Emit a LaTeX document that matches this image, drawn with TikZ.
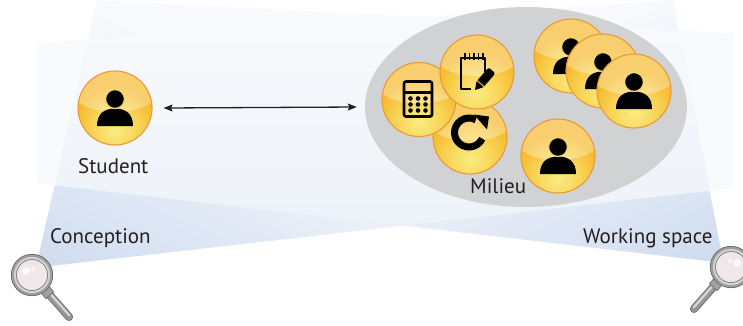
\documentclass[tikz,border=0pt]{standalone}
\usepackage{fontspec}
\setmainfont{PT Sans}
\usetikzlibrary{arrows.meta,shapes.geometric}

% palette
\definecolor{beamDark}{RGB}{208,221,240}
\definecolor{beamPale}{RGB}{249,250,253}
\definecolor{ovTop}{RGB}{249,250,253}
\definecolor{ovBot}{RGB}{237,242,249}
\definecolor{milieuGray}{RGB}{209,210,212}
\definecolor{orbMain}{RGB}{246,184,42}
\definecolor{orbGlow}{RGB}{250,236,128}
\definecolor{orbRim}{RGB}{232,155,52}
\definecolor{ink}{RGB}{35,31,32}
\definecolor{iconInk}{RGB}{0,0,0}
\definecolor{ringGray}{RGB}{160,160,162}
\definecolor{ringLight}{RGB}{212,212,214}
\definecolor{ringEdge}{RGB}{105,105,108}
\definecolor{lensCol}{RGB}{240,231,234}
\definecolor{handleGray}{RGB}{150,150,152}
\definecolor{handleLight}{RGB}{214,214,216}

\pgfdeclareradialshading{orbshade}{\pgfpoint{0bp}{0bp}}{%
  color(0bp)=(orbGlow); color(12bp)=(orbGlow!55!orbMain);
  color(24bp)=(orbMain); color(50bp)=(orbMain)}

\tikzset{
  orb/.style={circle, minimum size=74pt, inner sep=0pt, draw=orbRim, line width=1.1pt,
    path picture={
      \fill[orbMain] (path picture bounding box.south west)
        rectangle (path picture bounding box.north east);
      \shade[shading=orbshade] ([yshift=-22pt]path picture bounding box.center) circle (46pt);
      \fill[white, fill opacity=.32] ([yshift=18pt]path picture bounding box.center)
        ellipse (44pt and 22pt);
    }},
  lbl/.style={font=\fontsize{21}{23}\selectfont, text=ink, inner sep=0pt},
  link/.style={draw=ink, line width=1.3pt,
    {Stealth[length=9pt,width=7pt,inset=1.5pt]}-{Stealth[length=9pt,width=7pt,inset=1.5pt]}},
  person/.pic={
    \fill[iconInk] (-18,18) .. controls (-18,6) and (-11,0.5) .. (0,0.5)
      .. controls (11,0.5) and (18,6) .. (18,18) -- cycle;
    \filldraw[fill=iconInk, draw=orbGlow!60!orbMain, line width=1.3pt] (0,-9) circle (9.5pt);
  },
  calculator/.pic={
    \draw[iconInk, line width=2.6pt, rounded corners=2pt] (-15,-18) rectangle (13,17);
    \draw[iconInk, line width=2.2pt] (-15,-7) -- (13,-7);
    \foreach \dx in {-8.5,-1,6.5}
      \foreach \dy in {-1,5,11}
        \fill[iconInk] (\dx,\dy) circle (2.3pt);
  },
  notepad/.pic={
    \draw[iconInk, line width=2.4pt, line join=round] (-6,17) -- (-16,17) -- (-16,-14) -- (8,-14) -- (8,0);
    \foreach \dx in {-12,-7.5,-3,1.5,6}
      \draw[iconInk, line width=1.8pt] (\dx,-19) -- (\dx,-12);
    \begin{scope}[shift={(-2,18)}, rotate=49]
      \fill[iconInk] (0,0) -- (7.5,-4.5) -- (7.5,4.5) -- cycle;
      \fill[iconInk, rounded corners=1.5pt] (7,-4.5) -- (26,-4.5) -- (26,4.5) -- (7,4.5) -- cycle;
      \draw[orbMain, line width=1pt] (8.5,-5) -- (8.5,5);
    \end{scope}
  },
  refresh/.pic={
    \draw[iconInk, line width=7pt] (-1,-4.5) ++(25:14.5) arc (25:298:14.5);
    \fill[iconInk] (4,-22.5) -- (19,-20.5) -- (17,-7.5) -- cycle;
  },
  magnifier/.pic={
    \begin{scope}[rotate=-48.5]
      \draw[line width=8pt, line cap=round, ringEdge] (24,0) -- (56,0);
      \draw[line width=6.4pt, line cap=round, handleGray] (24,0) -- (56,0);
      \draw[line width=2.2pt, line cap=round, handleLight] (25,-1.2) -- (55,-1.2);
      \filldraw[fill=ringGray, draw=ringEdge, line width=.6pt] (18,-5.2) rectangle (27,5.2);
    \end{scope}
    \fill[ringGray] (0,0) circle (21pt);
    \draw[ringLight, line width=2pt] (0,0) circle (17pt);
    \draw[ringEdge, line width=.7pt] (0,0) circle (20.7pt);
    \fill[lensCol] (0,0) circle (15.5pt);
    \draw[ringEdge, line width=.5pt] (0,0) circle (15.5pt);
    \fill[white, fill opacity=.75] (-6,-4) circle (4pt);
    \fill[white, fill opacity=.55] (1,-6) circle (2.2pt);
  },
}

\begin{document}
\begin{tikzpicture}[x=1pt, y=-1pt]
\useasboundingbox (0,0) rectangle (743,325);

% light beam of the left magnifier
\begin{scope}
  \clip (38,258) -- (97,0) -- (733,33) -- (733,188) -- (50,266) -- cycle;
  \begin{scope}[shift={(40,264)}, rotate=65]
    \fill[beamDark] (-500,-900) rectangle (0.5,900);
    \fill[beamPale] (269,-900) rectangle (1300,900);
    \foreach \i in {0,...,26}{
      \pgfmathsetmacro\p{100*\i/26}
      \fill[beamPale!\p!beamDark] (\i*10,-900) rectangle (\i*10+11,900);
    }
  \end{scope}
\end{scope}

% light beam of the right magnifier
\begin{scope}
  \clip (721,250) -- (673,0) -- (37,43) -- (37,183) -- (716,262) -- cycle;
  \begin{scope}[shift={(718,256)}, rotate=115]
    \fill[beamDark] (-500,-900) rectangle (0.5,900);
    \fill[beamPale] (269,-900) rectangle (1300,900);
    \foreach \i in {0,...,26}{
      \pgfmathsetmacro\p{100*\i/26}
      \fill[beamPale!\p!beamDark] (\i*10,-900) rectangle (\i*10+11,900);
    }
  \end{scope}
\end{scope}

% where both beams meet the light is paler
\begin{scope}
  \clip (38,258) -- (97,0) -- (733,33) -- (733,188) -- (50,266) -- cycle;
  \clip (721,250) -- (673,0) -- (37,43) -- (37,183) -- (716,262) -- cycle;
  \shade[top color=ovTop, bottom color=ovBot] (0,0) rectangle (743,232);
\end{scope}

% magnifiers
\pic at (32,275) {magnifier};
\pic[xscale=-1] at (731,267) {magnifier};

% milieu
\node[ellipse, fill=milieuGray, minimum width=322pt, minimum height=200pt, inner sep=0pt] (milieu) at (526,107) {};

\node[orb] (p1) at (571,56) {};
\pic at (p1) {person};
\node[orb] (p2) at (603,71) {};
\pic at (p2) {person};
\node[orb] (p3) at (634,91) {};
\pic at (p3) {person};

\node[orb] (rf) at (470,137) {};
\pic at (rf) {refresh};
\node[orb] (calc) at (419,99.5) {};
\pic at (calc) {calculator};
\node[orb] (note) at (477,72) {};
\pic at (note) {notepad};

\node[lbl, anchor=base west] (mil) at (470,193) {Milieu};

\node[orb] (p4) at (558,156) {};
\pic at (p4) {person};

% student
\node[orb] (stu) at (115,108) {};
\pic at (stu) {person};
\node[lbl, anchor=base west] (stulbl) at (78,173.3) {Student};

\draw[link] ([xshift=11pt]stu.east) -- ([xshift=-8pt]milieu.west);

% beam labels
\node[lbl, anchor=base west] (conc) at (50,243) {Conception};
\node[lbl, anchor=base west] (ws) at (583,243) {Working space};
\end{tikzpicture}
\end{document}
